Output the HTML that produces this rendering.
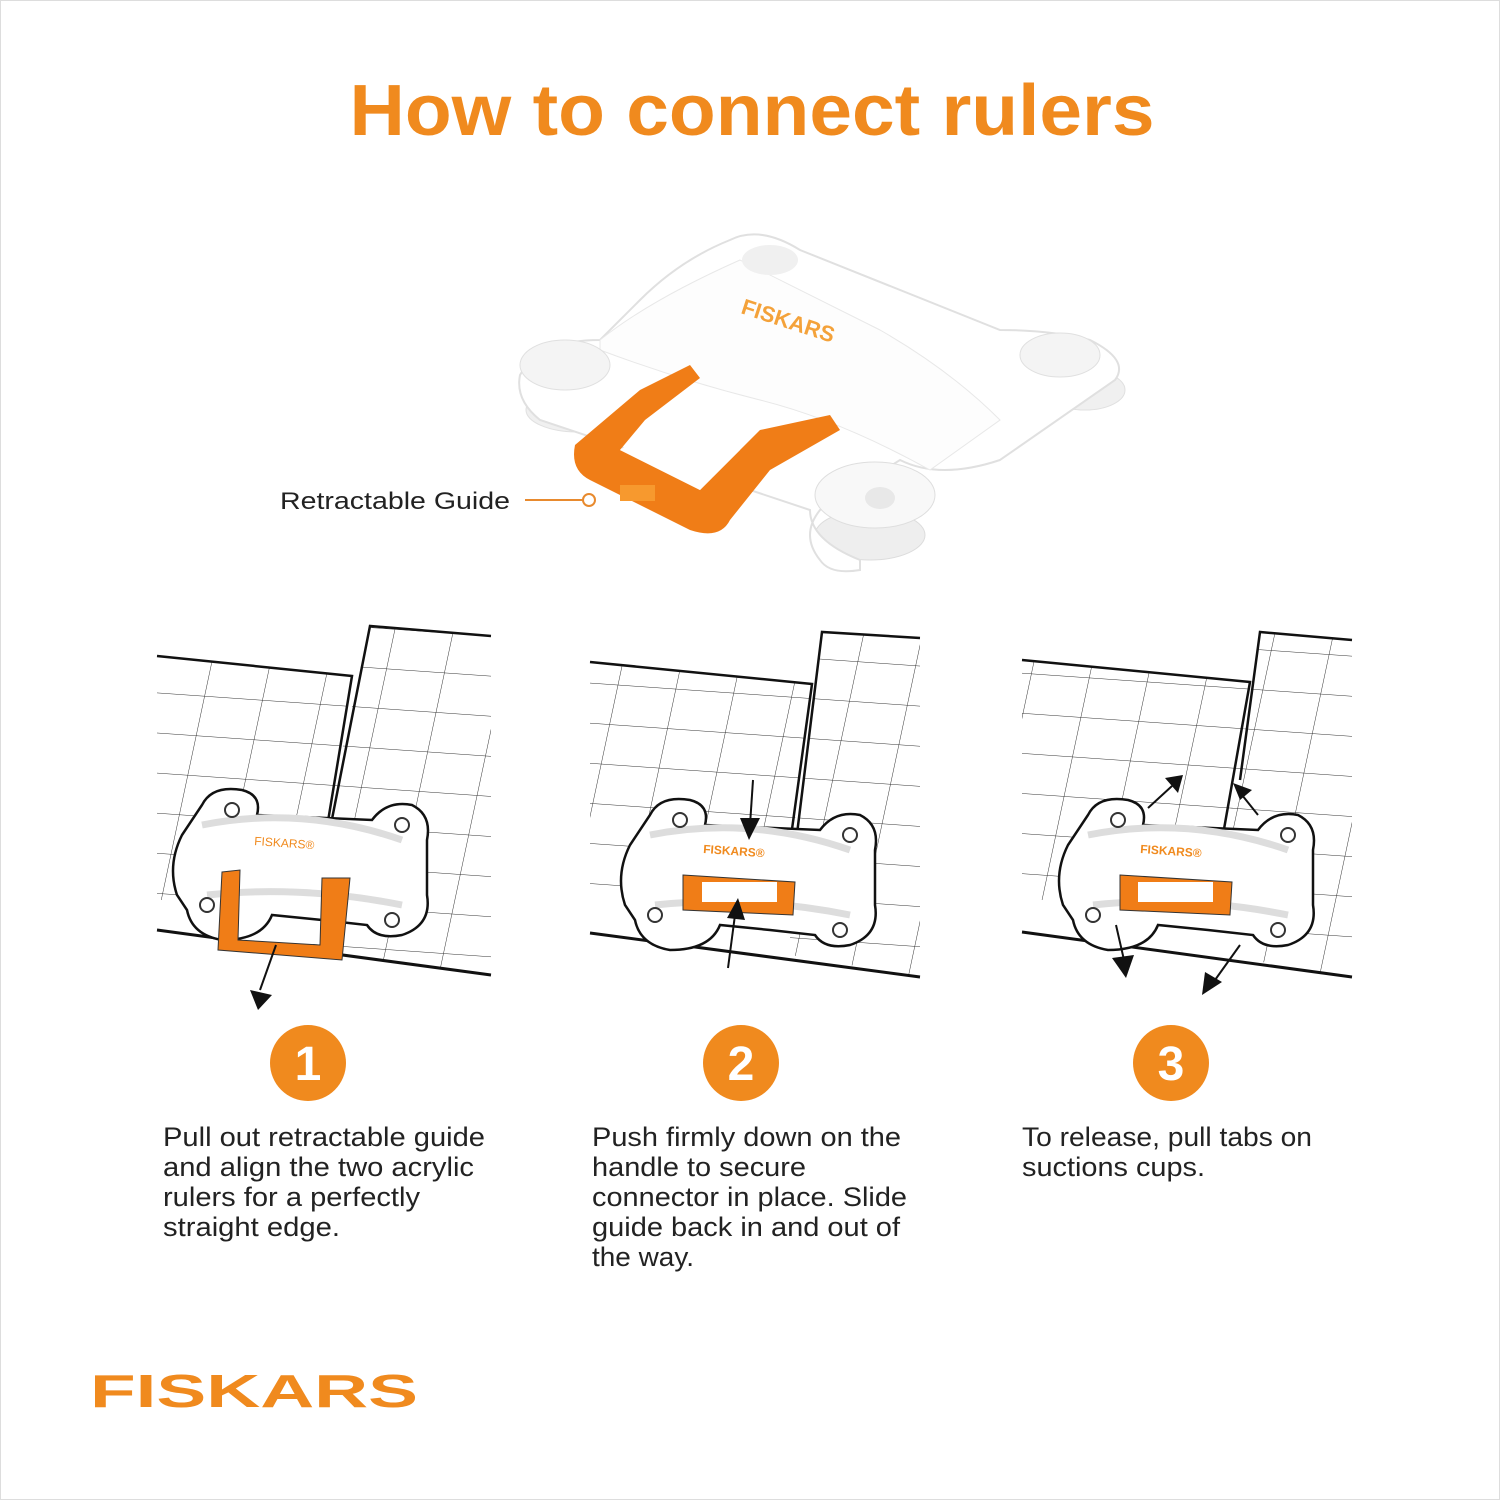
<!DOCTYPE html>
<html><head><meta charset="utf-8"><style>
html,body{margin:0;padding:0;background:#fff}
svg{display:block}
text{font-family:"Liberation Sans",sans-serif}
</style></head><body>
<svg width="1500" height="1500" viewBox="0 0 1500 1500" xmlns="http://www.w3.org/2000/svg">
<rect x="0.5" y="0.5" width="1499" height="1499" fill="#fff" stroke="#ddd"/>
<text x="752" y="135" text-anchor="middle" font-size="72" font-weight="bold" fill="#f08a1e" textLength="805" lengthAdjust="spacingAndGlyphs">How to connect rulers</text>

<!-- Top product -->
<g>
  <ellipse cx="578" cy="410" rx="52" ry="22" fill="#f0f0f0" stroke="#e0e0e0"/>
  <ellipse cx="1085" cy="390" rx="40" ry="20" fill="#f0f0f0" stroke="#e0e0e0"/>
  <ellipse cx="870" cy="535" rx="55" ry="25" fill="#eeeeee" stroke="#dcdcdc"/>
  <path d="M520 375 Q540 340 600 340 L640 300 Q680 260 730 240 Q760 225 800 250 L1000 330 Q1050 330 1090 340 Q1130 360 1115 380 L1000 460 Q940 480 900 460 L820 510 Q800 535 820 560 Q830 575 860 570 L860 560 Q810 540 810 510 L540 420 Q515 400 520 375 Z" fill="#fff" stroke="#e0e0e0" stroke-width="2"/>
  <path d="M600 340 Q650 300 740 260 Q800 290 880 330 Q950 370 1000 420 L930 470 Q840 420 760 400 Q680 380 600 350 Z" fill="#fdfdfd" stroke="#e8e8e8"/>
  <ellipse cx="565" cy="365" rx="45" ry="25" fill="#f4f4f4" stroke="#e0e0e0"/>
  <ellipse cx="1060" cy="355" rx="40" ry="22" fill="#f4f4f4" stroke="#e0e0e0"/>
  <ellipse cx="875" cy="495" rx="60" ry="33" fill="#f8f8f8" stroke="#dedede"/>
  <ellipse cx="880" cy="498" rx="15" ry="11" fill="#e8e8e8"/>
  <ellipse cx="770" cy="260" rx="28" ry="15" fill="#f0f0f0"/>
  <path d="M575 445 L640 390 L690 365 L700 378 L645 420 L620 450 L700 490 L760 430 L830 415 L840 430 L770 470 L730 520 Q720 540 690 530 L590 480 Q570 470 575 445 Z" fill="#f07d17"/>
  <path d="M620 450 L700 490 L740 450 L665 418 Z" fill="#fff"/>
  <rect x="620" y="485" width="35" height="16" fill="#f7992e"/>
  <text x="740" y="313" font-size="22" fill="#f4a23a" transform="rotate(18 740 313)" font-weight="bold">FISKARS</text>
</g>
<text x="280" y="509" font-size="24" fill="#222" textLength="230" lengthAdjust="spacingAndGlyphs">Retractable Guide</text>
<line x1="525" y1="500" x2="583" y2="500" stroke="#e88a2e" stroke-width="2"/>
<circle cx="589" cy="500" r="6" fill="#fff" stroke="#e88a2e" stroke-width="2"/>

<defs>
  <g id="conn">
    <path d="M30 20 Q40 0 70 5 Q90 10 85 30 L200 35 Q215 15 240 20 Q260 30 255 55 L255 110 Q260 140 230 150 Q205 155 195 140 L150 135 L100 130 Q90 155 50 155 Q20 150 15 125 L5 110 Q-5 80 10 50 Z" fill="#fff" stroke="#111" stroke-width="2.5"/>
    <path d="M30 40 Q130 20 230 55" stroke="#ddd" stroke-width="7" fill="none"/>
    <path d="M35 110 Q130 100 230 120" stroke="#ddd" stroke-width="7" fill="none"/>
    <circle cx="60" cy="25" r="7" fill="#fff" stroke="#333" stroke-width="2"/>
    <circle cx="230" cy="40" r="7" fill="#fff" stroke="#333" stroke-width="2"/>
    <circle cx="35" cy="120" r="7" fill="#fff" stroke="#333" stroke-width="2"/>
    <circle cx="220" cy="135" r="7" fill="#fff" stroke="#333" stroke-width="2"/>
  </g>
  <pattern id="grid" width="58" height="40" patternUnits="userSpaceOnUse" patternTransform="rotate(4) skewX(-8)">
    <path d="M0 0 H58 M0 0 V40" stroke="#333" stroke-width="1" fill="none"/>
  </pattern>
</defs>

<!-- Panel 1 -->
<g>
  <polygon points="157,656 352,676 315,900 157,900" fill="url(#grid)"/>
  <polygon points="370,626 491,636 491,975 313,950 313,880" fill="url(#grid)"/>
  <polyline points="157,656 352,676 315,900" fill="none" stroke="#111" stroke-width="2.5"/>
  <polyline points="491,636 370,626 320,880" fill="none" stroke="#111" stroke-width="2.5"/>
  <line x1="157" y1="930" x2="491" y2="975" stroke="#111" stroke-width="3"/>
  <use href="#conn" transform="translate(172,785)"/>
  <text x="254" y="845" font-size="12" fill="#f08a1e" transform="rotate(4 254 845)">FISKARS®</text>
  <path d="M222 872 L240 870 L238 940 L320 945 L322 878 L350 878 L342 960 L218 950 Z" fill="#f07d17" stroke="#333"/>
  <line x1="276" y1="945" x2="260" y2 ="990" stroke="#111" stroke-width="2"/>
  <polygon points="250,990 272,995 258,1010" fill="#111"/>
</g>

<!-- Panel 2 -->
<g>
  <polygon points="590,662 812,684 785,900 590,900" fill="url(#grid)"/>
  <polygon points="822,632 920,638 920,977 790,955 790,880" fill="url(#grid)"/>
  <polyline points="590,662 812,684 785,880" fill="none" stroke="#111" stroke-width="2.5"/>
  <polyline points="920,638 822,632 795,850" fill="none" stroke="#111" stroke-width="2.5"/>
  <line x1="590" y1="933" x2="920" y2="977" stroke="#111" stroke-width="3"/>
  <use href="#conn" transform="translate(620,795)"/>
  <text x="703" y="853" font-size="12" fill="#f08a1e" font-weight="bold" transform="rotate(4 703 853)">FISKARS®</text>
  <path d="M683 875 L795 882 L793 915 L683 910 Z" fill="#f07d17" stroke="#333"/>
  <rect x="702" y="882" width="75" height="20" fill="#fff"/>
  <line x1="753" y1="780" x2="750" y2="825" stroke="#111" stroke-width="2"/>
  <polygon points="740,818 760,818 749,840" fill="#111"/>
  <line x1="728" y1="968" x2="735" y2="915" stroke="#111" stroke-width="2"/>
  <polygon points="727,918 745,920 738,898" fill="#111"/>
</g>

<!-- Panel 3 -->
<g>
  <polygon points="1022,660 1250,682 1220,900 1022,900" fill="url(#grid)"/>
  <polygon points="1260,632 1352,640 1352,977 1220,955 1220,880" fill="url(#grid)"/>
  <polyline points="1022,660 1250,682 1215,880" fill="none" stroke="#111" stroke-width="2.5"/>
  <polyline points="1352,640 1260,632 1240,780" fill="none" stroke="#111" stroke-width="2.5"/>
  <line x1="1022" y1="932" x2="1352" y2="977" stroke="#111" stroke-width="3"/>
  <use href="#conn" transform="translate(1058,795)"/>
  <text x="1140" y="853" font-size="12" fill="#f08a1e" font-weight="bold" transform="rotate(4 1140 853)">FISKARS®</text>
  <path d="M1120 875 L1232 882 L1230 915 L1120 910 Z" fill="#f07d17" stroke="#333"/>
  <rect x="1138" y="882" width="75" height="20" fill="#fff"/>
  <line x1="1148" y1="808" x2="1172" y2="786" stroke="#111" stroke-width="2"/>
  <polygon points="1165,778 1183,775 1178,793" fill="#111"/>
  <line x1="1258" y1="815" x2="1242" y2="795" stroke="#111" stroke-width="2"/>
  <polygon points="1233,783 1252,790 1240,800" fill="#111"/>
  <line x1="1116" y1="925" x2="1124" y2="960" stroke="#111" stroke-width="2"/>
  <polygon points="1112,958 1134,955 1126,978" fill="#111"/>
  <line x1="1240" y1="945" x2="1215" y2="980" stroke="#111" stroke-width="2"/>
  <polygon points="1205,972 1222,982 1202,995" fill="#111"/>
</g>

<g font-size="48" font-weight="bold" fill="#fff" text-anchor="middle">
  <circle cx="308" cy="1063" r="38" fill="#f08a1e"/><text x="308" y="1080">1</text>
  <circle cx="741" cy="1063" r="38" fill="#f08a1e"/><text x="741" y="1080">2</text>
  <circle cx="1171" cy="1063" r="38" fill="#f08a1e"/><text x="1171" y="1080">3</text>
</g>
<g font-size="27" fill="#222" lengthAdjust="spacingAndGlyphs">
  <text x="163" y="1146" textLength="322" lengthAdjust="spacingAndGlyphs">Pull out retractable guide</text>
  <text x="163" y="1176" textLength="311" lengthAdjust="spacingAndGlyphs">and align the two acrylic</text>
  <text x="163" y="1206" textLength="257" lengthAdjust="spacingAndGlyphs">rulers for a perfectly</text>
  <text x="163" y="1236" textLength="177" lengthAdjust="spacingAndGlyphs">straight edge.</text>
  <text x="592" y="1146" textLength="309" lengthAdjust="spacingAndGlyphs">Push firmly down on the</text>
  <text x="592" y="1176" textLength="214" lengthAdjust="spacingAndGlyphs">handle to secure</text>
  <text x="592" y="1206" textLength="315" lengthAdjust="spacingAndGlyphs">connector in place. Slide</text>
  <text x="592" y="1236" textLength="308" lengthAdjust="spacingAndGlyphs">guide back in and out of</text>
  <text x="592" y="1266" textLength="102" lengthAdjust="spacingAndGlyphs">the way.</text>
  <text x="1022" y="1146" textLength="290" lengthAdjust="spacingAndGlyphs">To release, pull tabs on</text>
  <text x="1022" y="1176" textLength="183" lengthAdjust="spacingAndGlyphs">suctions cups.</text>
</g>
<text x="90" y="1407" font-size="46" font-weight="bold" fill="#f08a1e" textLength="328" lengthAdjust="spacingAndGlyphs">FISKARS</text>
</svg>
</body></html>
